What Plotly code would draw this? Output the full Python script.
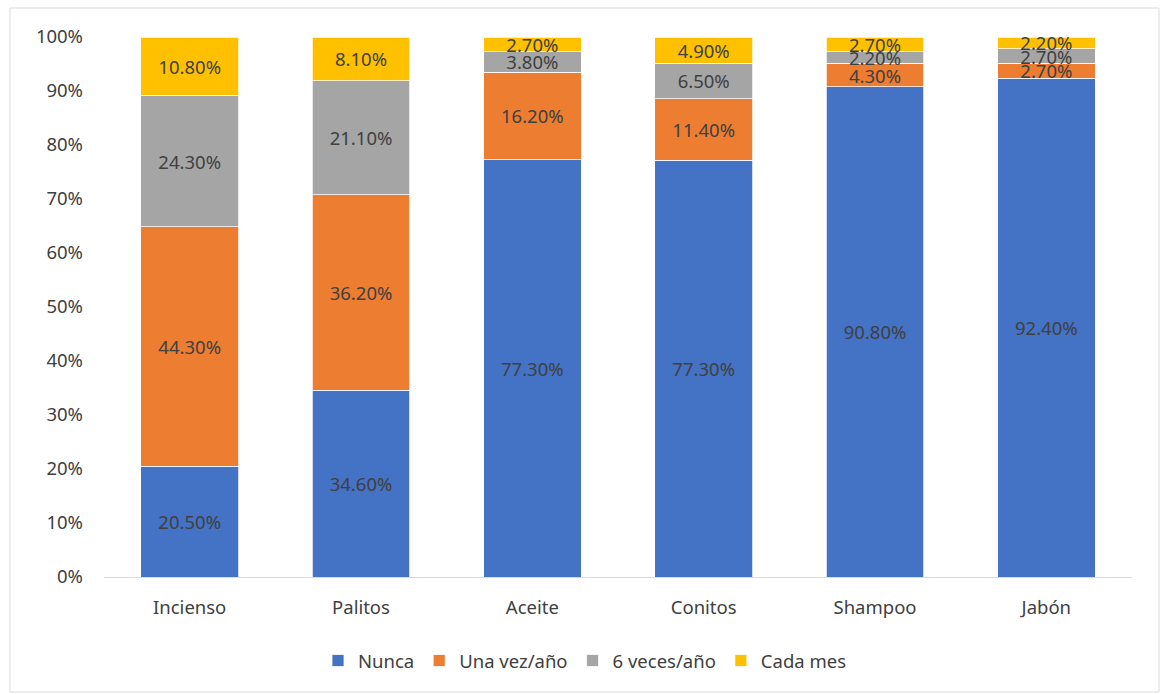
import plotly.graph_objects as go

categories = ["Incienso", "Palitos", "Aceite", "Conitos", "Shampoo", "Jabón"]
nunca = [20.5, 34.6, 77.3, 77.3, 90.8, 92.4]
una_vez = [44.3, 36.2, 16.2, 11.4, 4.3, 2.7]
seis_veces = [24.3, 21.1, 3.8, 6.5, 2.2, 2.7]
cada_mes = [10.8, 8.1, 2.7, 4.9, 2.7, 2.2]
series_names = ["Nunca", "Una vez/año", "6 veces/año", "Cada mes"]
colors = ["#4472C4", "#ED7D31", "#A5A5A5", "#FFC000"]
y_ticks = [0, 10, 20, 30, 40, 50, 60, 70, 80, 90, 100]

FONT = "Noto Sans"
TXT = "#404040"

fig = go.Figure()
for name, vals, col in zip(series_names, [nunca, una_vez, seis_veces, cada_mes], colors):
    fig.add_trace(go.Bar(
        x=categories, y=vals, name=name,
        marker=dict(color=col, line=dict(color="white", width=0.75)),
        text=[f"{v:.2f}%" for v in vals],
        textposition="inside", insidetextanchor="middle",
        constraintext="none",
        textfont=dict(family=FONT, size=18.5, color=TXT),
        hoverinfo="x+y+name",
    ))

L, R, T, B = 104, 28, 37, 117
W, H = 1160, 694
pw, ph = W - L - R, H - T - B

fig.update_layout(
    barmode="stack", barnorm="percent", bargap=0.43,
    width=W, height=H,
    margin=dict(l=L, r=R, t=T, b=B),
    paper_bgcolor="white", plot_bgcolor="white",
    font=dict(family=FONT, size=18, color=TXT),
    showlegend=True,
    legend=dict(orientation="h", x=(585 - L) / pw, xanchor="center", y=-(661 - 577) / ph, yanchor="middle",
                font=dict(family=FONT, size=18.5, color=TXT), traceorder="normal",
                itemwidth=30),
    xaxis=dict(showgrid=False, showline=True, linecolor="#D9D9D9", linewidth=1,
               ticks="", tickfont=dict(family=FONT, size=18.5, color=TXT), ticklabelstandoff=14),
    yaxis=dict(range=[0, 100], tickvals=y_ticks, ticktext=[f"{v}%" for v in y_ticks],
               showgrid=False, showline=False, zeroline=False, ticks="",
               tickfont=dict(family=FONT, size=18.5, color=TXT), ticklabelstandoff=20),
    shapes=[dict(type="rect", xref="paper", yref="paper",
                 x0=(10 - L) / pw, x1=(W - 1 - L) / pw,
                 y0=(H - B - 692) / ph, y1=(H - B - 8) / ph,
                 line=dict(color="#D9D9D9", width=1), fillcolor="rgba(0,0,0,0)", layer="below")],
)

fig.write_html("out.html")
